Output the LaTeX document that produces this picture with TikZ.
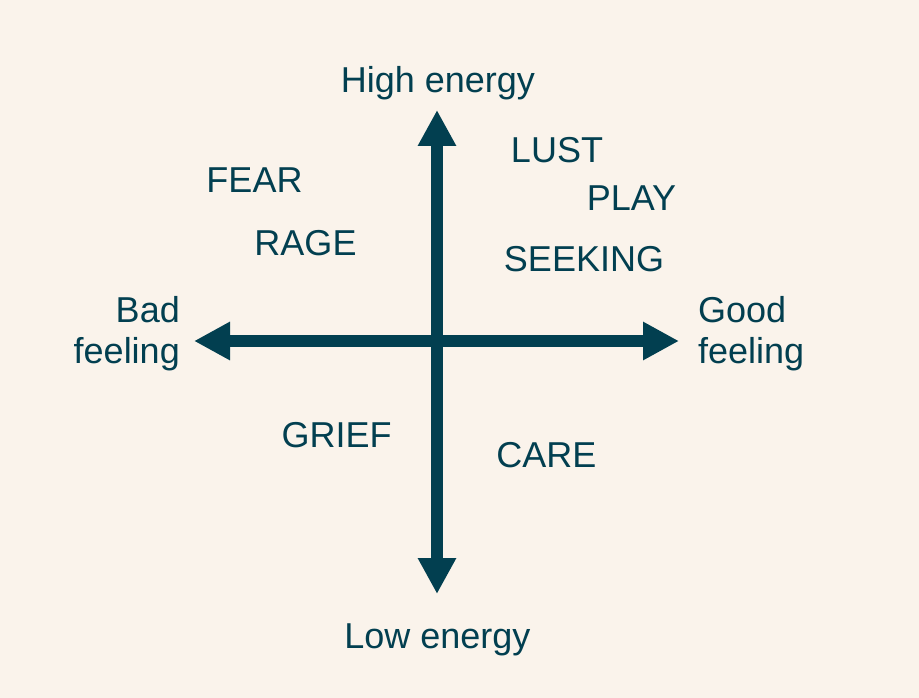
\documentclass[tikz,border=0pt]{standalone}
\usepackage{fontspec}
\setmainfont{Liberation Sans}
\usetikzlibrary{arrows.meta}
\definecolor{bgcream}{HTML}{FAF3EB}
\definecolor{teal}{HTML}{023F50}
\begin{document}
\begin{tikzpicture}[x=1pt,y=-1pt,
  lbl/.style={inner sep=0pt, text=teal, font=\fontsize{36}{41}\selectfont, anchor=base},
  axis/.style={draw=teal, line width=12pt, {Triangle[length=36pt,width=36pt]}-{Triangle[length=36pt,width=36pt]}}]
\fill[bgcream] (0,0) rectangle (919,698);
\useasboundingbox (0,0) rectangle (919,698);
\coordinate (top) at (437,110);
\coordinate (bot) at (437,594);
\coordinate (lft) at (194,341);
\coordinate (rgt) at (679,341);
\draw[axis] (top) -- (bot);
\draw[axis] (lft) -- (rgt);
\node[lbl] (high) at (438,93) {High energy};
\node[lbl] (low) at (437.5,648) {Low energy};
\node[lbl] (fear) at (254.5,193) {FEAR};
\node[lbl] (rage) at (305.5,255) {RAGE};
\node[lbl] (lust) at (557,163) {LUST};
\node[lbl] (play) at (631.5,211) {PLAY};
\node[lbl] (seeking) at (584,271) {SEEKING};
\node[lbl] (grief) at (336.5,447) {GRIEF};
\node[lbl] (care) at (546.5,467) {CARE};
\node[lbl, anchor=base east, align=right] (bad) at (180,363) {Bad\\feeling};
\node[lbl, anchor=base west, align=left] (good) at (698,363) {Good\\feeling};
\end{tikzpicture}
\end{document}
